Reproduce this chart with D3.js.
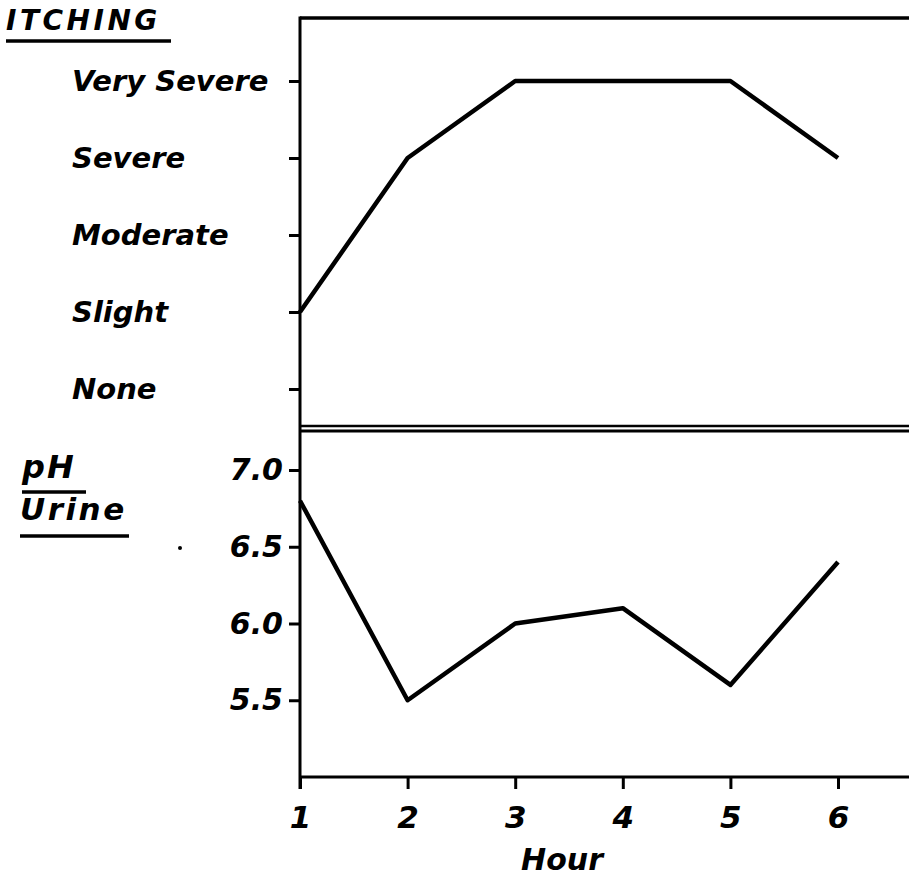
<!DOCTYPE html>
<html>
<head>
<meta charset="utf-8">
<script src="https://cdn.jsdelivr.net/npm/d3@7"></script>
<style>
  body { margin: 0; background: #fff; }
  svg text { font-family: "DejaVu Sans", sans-serif; font-weight: bold; font-style: italic; fill: #000; }
  .axis path, .axis line { stroke: #000; stroke-width: 3; }
</style>
</head>
<body>
<svg id="chart" width="909" height="881"></svg>
<script>
var hours = [1, 2, 3, 4, 5, 6];
var itchLevels = ["None", "Slight", "Moderate", "Severe", "Very Severe"];
var itching = [1, 3, 4, 4, 4, 3];
var phTicks = [5.5, 6.0, 6.5, 7.0];
var ph = [6.8, 5.5, 6.0, 6.1, 5.6, 6.4];

var svg = d3.select("#chart"),
    plotLeft = 300, plotRight = 909,
    plotTop = 18, divider = 429, plotBottom = 777;

var x = d3.scaleLinear().domain([1, 6]).range([300, 838]),
    yItch = d3.scaleLinear().domain([0, 4]).range([389, 81]),
    yPh = d3.scaleLinear().domain([5, 7]).range([777, 470]);

// frame lines
svg.append("line")
    .attr("x1", plotLeft).attr("x2", plotRight).attr("y1", plotTop).attr("y2", plotTop)
    .attr("stroke", "#000").attr("stroke-width", 3.5);
svg.append("line")
    .attr("x1", plotLeft).attr("x2", plotRight).attr("y1", divider - 3).attr("y2", divider - 3)
    .attr("stroke", "#000").attr("stroke-width", 2.5);
svg.append("line")
    .attr("x1", plotLeft).attr("x2", plotRight).attr("y1", divider + 2).attr("y2", divider + 2)
    .attr("stroke", "#000").attr("stroke-width", 3);
svg.append("line")
    .attr("x1", plotLeft).attr("x2", plotLeft).attr("y1", plotTop - 1.5).attr("y2", plotBottom + 12)
    .attr("stroke", "#000").attr("stroke-width", 3);

// itching axis
var itchAxis = svg.append("g")
    .attr("class", "axis")
    .attr("transform", "translate(" + plotLeft + ",0)")
    .call(d3.axisLeft(yItch).tickValues(d3.range(itchLevels.length))
      .tickSize(11).tickSizeOuter(0)
      .tickFormat(function(d) { return itchLevels[d]; }));
itchAxis.select(".domain").remove();
itchAxis.selectAll("text")
    .attr("text-anchor", "start")
    .attr("x", 72 - plotLeft)
    .attr("font-size", 29);

// pH axis
var phAxis = svg.append("g")
    .attr("class", "axis")
    .attr("transform", "translate(" + plotLeft + ",0)")
    .call(d3.axisLeft(yPh).tickValues(phTicks)
      .tickSize(11).tickSizeOuter(0).tickFormat(d3.format(".1f")));
phAxis.select(".domain").remove();
phAxis.selectAll("text")
    .attr("x", -17)
    .attr("font-size", 30);

// hour axis
var hourAxis = svg.append("g")
    .attr("class", "axis")
    .attr("transform", "translate(0," + plotBottom + ")")
    .call(d3.axisBottom(x).tickValues(hours).tickSize(12).tickSizeOuter(0)
      .tickFormat(d3.format("d")));
hourAxis.select(".domain").attr("d", "M" + plotLeft + ",0H" + plotRight);
hourAxis.selectAll("text")
    .attr("y", 29)
    .attr("font-size", 31);

// data lines
var itchLine = d3.line()
    .x(function(d, i) { return x(hours[i]); })
    .y(function(d) { return yItch(d); });
var phLine = d3.line()
    .x(function(d, i) { return x(hours[i]); })
    .y(function(d) { return yPh(d); });

svg.append("path")
    .attr("d", itchLine(itching))
    .attr("fill", "none").attr("stroke", "#000")
    .attr("stroke-width", 4.5).attr("stroke-linejoin", "round");
svg.append("path")
    .attr("d", phLine(ph))
    .attr("fill", "none").attr("stroke", "#000")
    .attr("stroke-width", 4.5).attr("stroke-linejoin", "round");

// titles
function underlined(txt, tx, ty, size, spacing, w, gap) {
  svg.append("text").attr("x", tx).attr("y", ty)
      .attr("font-size", size).attr("letter-spacing", spacing).text(txt);
  svg.append("line")
      .attr("x1", tx).attr("x2", tx + w).attr("y1", ty + gap).attr("y2", ty + gap)
      .attr("stroke", "#000").attr("stroke-width", 3.5);
}
underlined("ITCHING", 6, 30, 28, 3.5, 165, 11);
underlined("pH", 22, 478, 32, 2, 64, 14);
underlined("Urine", 20, 520, 31, 2.5, 109, 16);

// stray speck in the original scan
svg.append("circle").attr("cx", 180).attr("cy", 548).attr("r", 2).attr("fill", "#000");

svg.append("text")
    .attr("x", 562).attr("y", 870)
    .attr("text-anchor", "middle")
    .attr("font-size", 30)
    .text("Hour");
</script>
</body>
</html>
